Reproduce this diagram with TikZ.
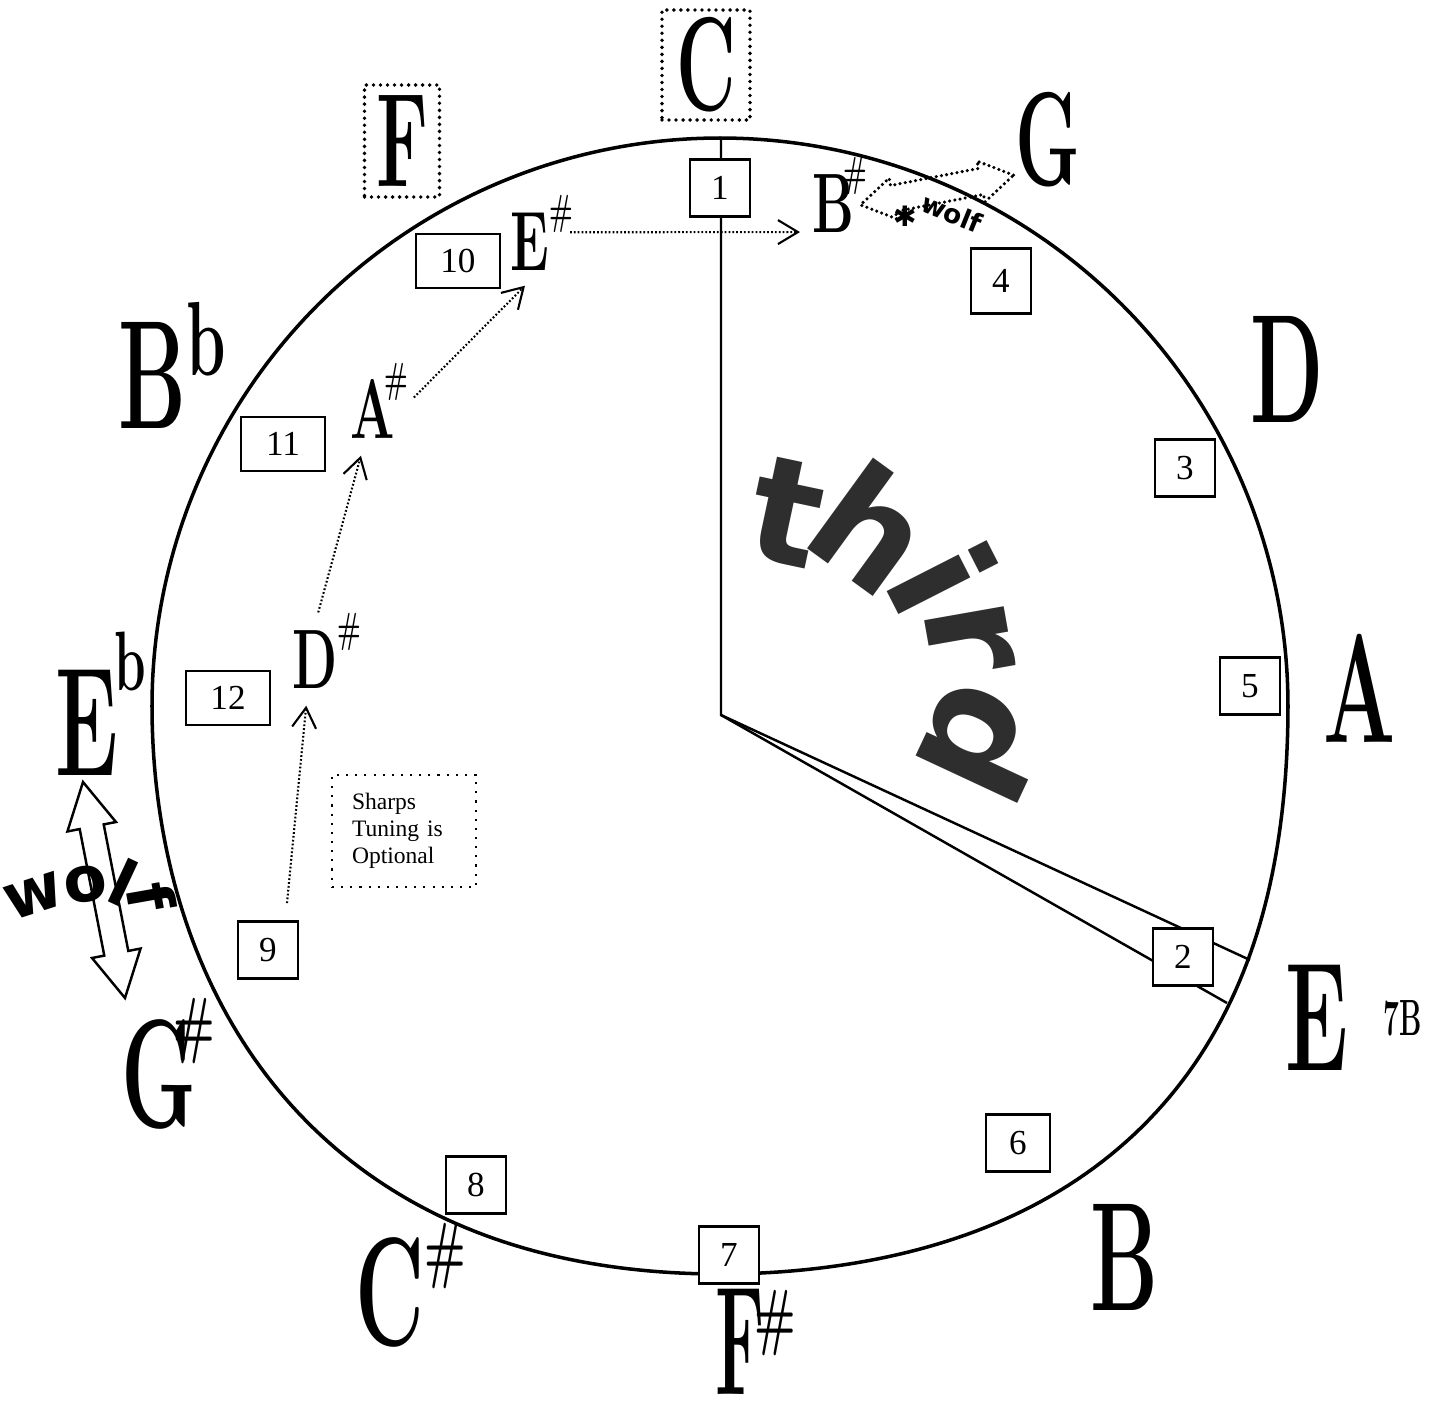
\documentclass[tikz,border=0pt]{standalone}
\usepackage{fontspec}
\newfontfamily\boxfont{Liberation Serif}
\newfontfamily\artfont{DejaVu Sans}
\usetikzlibrary{arrows.meta}
\usetikzlibrary{shapes.arrows}

% tall narrow note names and their raised signs
\newcommand{\nname}[2][44]{\scalebox{0.55}[1]{\bfseries\fontsize{#1}{#1}\selectfont #2}}
\newcommand{\nsup}[4][20pt]{\kern#4\raisebox{#1}{\scalebox{0.6}[1]{\bfseries\fontsize{#2}{#2}\selectfont #3}}}
\newcommand{\sname}[2][0pt]{\scalebox{0.62}[1]{\bfseries\fontsize{24}{24}\selectfont #2}\ssup{#1}{\#}}
\newcommand{\ssup}[2]{\rlap{\smash{\kern#1\raisebox{13pt}{\scalebox{0.6}[1]{\bfseries\fontsize{12}{12}\selectfont #2}}}}}

\tikzset{
  numbox/.style={draw, fill=white, line width=0.8pt, minimum width=0.6cm,
    minimum height=0.57cm, inner sep=0pt,
    font=\boxfont\fontsize{10}{12}\selectfont},
  widebox/.style={minimum width=0.84cm, minimum height=0.54cm},
  note/.style={inner sep=0pt},
  keybox/.style={draw, line width=1.1pt, line cap=round, dash pattern=on 0pt off 2pt},
  sharparrow/.style={line width=0.6pt, dash pattern=on 0.5pt off 0.6pt,
    -{Straight Barb[length=2mm,width=2.4mm]}},
  hand/.style={line width=0.7pt},
  wolfarrow/.style={double arrow, draw, inner xsep=0pt, minimum width=0pt, line width=0.7pt},
  artletter/.style={inner sep=0pt, text=black!82,
    font=\artfont\bfseries\fontsize{42}{42}\selectfont},
  wolfletter/.style={inner sep=0pt, font=\artfont\bfseries\fontsize{18}{18}\selectfont},
}

\begin{document}
\begin{tikzpicture}[x=0.1mm, y=-0.1mm]
\useasboundingbox (0,0) rectangle (1435,1410);

% the dial (a little fuller in its lower half) and its hands
\coordinate (ctr) at (720,706);
\draw[line width=1pt, shift={(ctr)}] plot[domain=0:360, samples=361]
  (\x:{568 + (sin(\x)>0)*(23+7*cos(\x))*pow(sin(2*\x),2)}) -- cycle;
\coordinate (hub) at (721,715);
\coordinate (top) at (721,138);
\coordinate (endA) at (1250,960);
\coordinate (endB) at (1227,1003);
\draw[hand] (top) -- (hub) -- (endA);
\draw[hand] (hub) -- (endB);

% numbered boxes
\node[numbox] (n1) at (720,188) {1};
\node[numbox] (n2) at (1183,957) {2};
\node[numbox] (n3) at (1185,468) {3};
\node[numbox, minimum height=0.65cm] (n4) at (1001,281) {4};
\node[numbox] (n5) at (1250,686) {5};
\node[numbox, minimum width=0.64cm] (n6) at (1018,1143) {6};
\node[numbox] (n7) at (729,1255) {7};
\node[numbox] (n8) at (476,1185) {8};
\node[numbox] (n9) at (268,950) {9};
\node[numbox, widebox] (n10) at (458,261) {10};
\node[numbox, widebox] (n11) at (283,444) {11};
\node[numbox, widebox] (n12) at (228,698) {12};

% note names round the dial
\node[note, keybox, minimum width=0.88cm, minimum height=1.1cm] (C) at (706,65) {\nname[38]{C}};
\node[note, keybox, minimum width=0.75cm, minimum height=1.12cm] (F) at (402,141) {\nname[38]{F}};
\node[note, anchor=base west] (G) at (1015,185) {\nname[38]{G}};
\node[note, anchor=base west] (D) at (1250,422) {\nname{D}};
\node[note, anchor=base west] (A) at (1323,742) {\nname{A}};
\node[note, anchor=base west] (E) at (1285,1070) {\nname{E}};
\node[note, anchor=base west] (E7B) at (1383,1035) {\nname[14.5]{7B}};
\node[note, anchor=base west] (B) at (1090,1310) {\nname{B}};
\node[note, anchor=base west] (Fs) at (715,1394) {\scalebox{0.82}[1]{\nname{F}}\nsup[15pt]{21}{\#}{-3pt}};
\node[note, anchor=base west] (Cs) at (355,1345) {\nname{C}\nsup{21}{\#}{0pt}};
\node[note, anchor=base west] (Gs) at (121,1127) {\nname{G}\nsup[22pt]{21}{\#}{-6.7pt}};
\node[note, anchor=base west] (Eb) at (55,775) {\nname{E}\nsup[24pt]{24}{b}{-1pt}};
\node[note, anchor=base west] (Bb) at (118,428) {\nname{B}\nsup[15pt]{30}{b}{0pt}};

% sharps inside the dial
\node[note, anchor=base west] (Bs) at (812,232) {\sname[-3pt]{B}};
\node[note, anchor=base west] (Es) at (510,270) {\sname{E}};
\node[note, anchor=base west] (As) at (350,438) {\sname[-3pt]{A}};
\node[note, anchor=base west] (Ds) at (292,688) {\sname{D}};

\draw[sharparrow] ([xshift=0.19cm,yshift=0.17cm]n9.north) -- ([xshift=-0.09cm,yshift=-0.17cm]Ds.south);
\draw[sharparrow] ([xshift=0.03cm,yshift=0.17cm]Ds.north) -- ([xshift=-0.12cm,yshift=-0.17cm]As.south);
\draw[sharparrow] ([xshift=0.18cm,yshift=0.11cm]As.east) -- ([xshift=-0.05cm,yshift=-0.15cm]Es.south);
\draw[sharparrow] ([xshift=0.2cm,yshift=0.09cm]Es.east) -- ([xshift=-0.12cm,yshift=-0.29cm]Bs.west);

\node[draw, dotted, line width=0.6pt, minimum width=1.44cm, minimum height=1.12cm,
  text width=1.04cm, align=left, font=\boxfont\fontsize{6.7}{7.7}\selectfont]
  (opt) at (404,831) {Sharps\\Tuning is\\Optional};

% wolf intervals
\node[wolfarrow, rotate=-79, minimum height=2.2cm, inner ysep=0.11cm,
  double arrow head extend=0.125cm, double arrow tip angle=57] (wolfL) at (104,890) {};
\node[wolfarrow, rotate=11, minimum height=1.56cm, inner ysep=0.115cm,
  double arrow head extend=0.075cm, double arrow tip angle=64,
  line width=1pt, line cap=round, dash pattern=on 0pt off 1.5pt] (wolfT) at (937,190) {};

\foreach \ch/\x/\y/\r in {w/34/896/18, o/86/884/8, l/123/882/-25, f/152/897/-80}
  \node[wolfletter, rotate=\r] (wolf-\ch) at (\x,\y) {\ch};
\node[inner sep=0pt, rotate=-22, font=\artfont\bfseries\fontsize{7.5}{7.5}\selectfont] (wolfG) at (952,213) {wolf};
\node[inner sep=0pt, font=\artfont\fontsize{8}{8}\selectfont] (burst) at (905,216) {✱};

% word art
\foreach \ch/\x/\y/\r in {t/787/512/-12, h/873/527/-36, i/943/578/-63, r/970/637/-80, d/983/743/-115}
  \node[artletter, rotate=\r] (third-\ch) at (\x,\y) {\ch};
\end{tikzpicture}
\end{document}
